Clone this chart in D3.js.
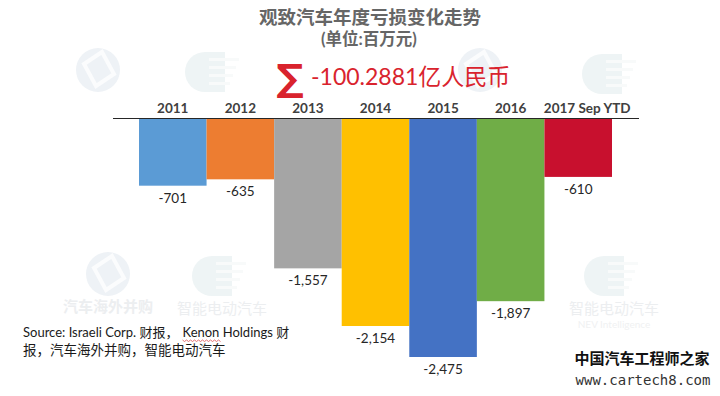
<!DOCTYPE html>
<html>
<head>
<meta charset="utf-8">
<script src="https://cdn.jsdelivr.net/npm/d3@7"></script>
<style>
html,body{margin:0;padding:0;background:#fff;}
svg{display:block;}
</style>
</head>
<body>
<svg id="chart" width="720" height="396"></svg>
<script>
const categories = ["2011", "2012", "2013", "2014", "2015", "2016", "2017 Sep YTD"];
const values = [-701, -635, -1557, -2154, -2475, -1897, -610];
const colors = ["#5b9bd5", "#ed7d31", "#a5a5a5", "#ffc000", "#4472c4", "#70ad47", "#c8102e"];
const titleLines = ["观致汽车年度亏损变化走势", "(单位:百万元)"];
const totalText = "-100.2881亿人民币";
const sourceLines = ["Source: Israeli Corp. 财报，", "Kenon Holdings", " 财", "报，汽车海外并购，智能电动汽车"];

const svg = d3.select("#chart");
const latin = "Lato, 'Noto Sans CJK SC', sans-serif";
const cjk = "'Noto Sans CJK SC', 'Noto Sans', sans-serif";

// ---- faint watermarks ----
const wm = svg.append("g").attr("class", "watermarks");
function logoA(cx, cy, withText, withSub) {
  const g = wm.append("g").attr("transform", `translate(${cx},${cy})`);
  g.append("circle").attr("r", 22).attr("fill", "#eef2f6");
  g.append("path").attr("d", "M-14,-6 L4,-18 L16,4 L-2,16 Z").attr("fill", "none").attr("stroke", "#fbfcfd").attr("stroke-width", 4);
  if (withText) {
    g.append("text").attr("y", 38).attr("text-anchor", "middle").attr("font-family", cjk)
      .attr("font-size", 15).attr("font-weight", 700).attr("fill", "#eceef0").text("汽车海外并购");
  }
  if (withSub) {
    g.append("text").attr("y", 52).attr("text-anchor", "middle").attr("font-family", latin)
      .attr("font-size", 10).attr("fill", "#f0f1f2").text("Automergers");
  }
}
function logoB(cx, cy, withText, withSub) {
  const g = wm.append("g").attr("transform", `translate(${cx},${cy})`);
  g.append("path").attr("d", "M10,-20 L-10,-20 A20,20 0 0 0 -10,20 L10,20 Z").attr("fill", "#eef4f5");
  [-14, -6, 2, 10].forEach((yy, i) => {
    g.append("rect").attr("x", -6).attr("y", yy).attr("width", 30 - i * 3).attr("height", 3).attr("fill", "#f8fafa");
  });
  if (withText) {
    g.append("text").attr("y", 38).attr("text-anchor", "middle").attr("font-family", cjk)
      .attr("font-size", 15).attr("fill", "#eceef0").text("智能电动汽车");
  }
  if (withSub) {
    g.append("text").attr("y", 52).attr("text-anchor", "middle").attr("font-family", latin)
      .attr("font-size", 10).attr("fill", "#f0f1f2").text("NEV Intelligence");
  }
}
logoA(98, 70, false, false); logoB(215, 72, false, false); logoA(480, 70, false, false); logoB(612, 74, false, false);
logoA(108, 274, true, false); logoB(222, 276, true, false); logoA(505, 274, false, false); logoB(614, 276, true, true);

// ---- title (single text element, two lines) ----
const title = svg.append("text").attr("text-anchor", "middle")
  .attr("font-family", latin).attr("font-weight", 700).attr("fill", "#666666");
title.append("tspan").attr("x", 370).attr("y", 23.5).attr("font-size", 18.5).text(titleLines[0]);
title.append("tspan").attr("x", 369).attr("y", 44.5).attr("font-size", 16.5).text(titleLines[1]);

// ---- total ----
svg.append("text").attr("x", 290).attr("y", 91).attr("text-anchor", "middle")
  .attr("font-family", "'DejaVu Sans', sans-serif").attr("font-weight", 700).attr("font-size", 38)
  .attr("fill", "#d9232d").text("∑");
svg.append("text").attr("x", 311).attr("y", 85)
  .attr("font-family", latin).attr("font-size", 23)
  .attr("fill", "#d9232d").text(totalText);

// ---- scales ----
const x = d3.scaleBand().domain(categories).range([139, 612]).padding(0);
const y = d3.scaleLinear().domain([-2475, 0]).range([357, 118]);
const fmt = d3.formatLocale({decimal: ".", thousands: ",", grouping: [3], currency: ["", ""], minus: "-"}).format(",");

// bars
svg.append("g").selectAll("rect").data(values).join("rect")
  .attr("x", (d, i) => x(categories[i]))
  .attr("y", y(0))
  .attr("width", x.bandwidth())
  .attr("height", d => y(d) - y(0))
  .attr("fill", (d, i) => colors[i]);

// axis line
const [r0, r1] = x.range();
svg.append("line").attr("x1", r0 - 26).attr("x2", r1 + 27)
  .attr("y1", y(0) + 0.5).attr("y2", y(0) + 0.5)
  .attr("stroke", "#262626").attr("stroke-width", 1);

// category labels
svg.append("g").selectAll("text").data(categories).join("text")
  .attr("x", d => x(d) + x.bandwidth() / 2 + (d.length > 4 ? 9 : 0))
  .attr("y", y(0) - 5)
  .attr("text-anchor", "middle")
  .attr("font-family", latin).attr("font-weight", 700).attr("font-size", 13.5)
  .attr("fill", "#404040").text(d => d);

// value labels
svg.append("g").selectAll("text").data(values).join("text")
  .attr("x", (d, i) => x(categories[i]) + x.bandwidth() / 2)
  .attr("y", d => y(d) + 17)
  .attr("text-anchor", "middle")
  .attr("font-family", latin).attr("font-size", 13.5)
  .attr("fill", "#262626").text(d => fmt(d));

// ---- source ----
const src = svg.append("text").attr("x", 23).attr("y", 337)
  .attr("font-family", latin).attr("font-size", 13).attr("fill", "#1a1a1a");
src.append("tspan").text(sourceLines[0]);
const kenon = src.append("tspan").attr("dx", 4).text(sourceLines[1]);
src.append("tspan").text(sourceLines[2]);
svg.append("text").attr("x", 23).attr("y", 355)
  .attr("font-family", latin).attr("font-size", 13.5).attr("fill", "#1a1a1a").text(sourceLines[3]);
// spell-check squiggle under "Kenon"
try {
  const node = kenon.node();
  const start = node.getStartPositionOfChar(0).x;
  const end = node.getEndPositionOfChar(4).x;
  let d = `M${start},340`;
  for (let xx = start, k = 0; xx < end; xx += 2, k++) d += ` L${xx + 2},${k % 2 ? 340 : 341.5}`;
  svg.append("path").attr("d", d).attr("fill", "none").attr("stroke", "#e05050").attr("stroke-width", 0.8);
} catch (e) {}

// ---- bottom-right brand ----
svg.append("text").attr("x", 642).attr("y", 364).attr("text-anchor", "middle")
  .attr("font-family", cjk).attr("font-weight", 700).attr("font-size", 15)
  .attr("fill", "#111").text("中国汽车工程师之家");
svg.append("text").attr("x", 643).attr("y", 385).attr("text-anchor", "middle")
  .attr("font-family", "'DejaVu Sans Mono', monospace").attr("font-size", 14)
  .attr("fill", "#333").text("www.cartech8.com");
</script>
</body>
</html>
